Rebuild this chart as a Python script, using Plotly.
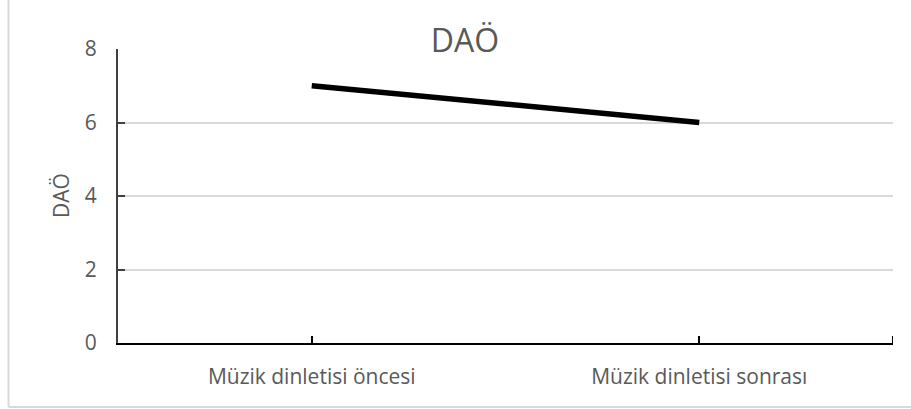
import plotly.graph_objects as go

categories = ["Müzik dinletisi öncesi", "Müzik dinletisi sonrası"]
values = [7, 6]
y_ticks = [0, 2, 4, 6, 8]
chart_title = "DAÖ"
y_title = "DAÖ"

W, H = 911, 409
L, R, T, B = 118, 18, 49, 66
pw, ph = W - L - R, H - T - B

FONT = "Open Sans"
GREY = "#595959"

fig = go.Figure()
fig.add_trace(go.Scatter(
    x=categories, y=values, mode="lines",
    line=dict(color="black", width=5.5),
    hoverinfo="skip", showlegend=False,
))

def px_x(p):
    return (p - L) / pw

def px_y(p):
    return (H - B - p) / ph

shapes = [
    # chart border (left, bottom)
    dict(type="line", xref="paper", yref="paper", x0=px_x(8.5), x1=px_x(8.5), y0=px_y(407), y1=px_y(0) + 0.2,
         line=dict(color="#d9d9d9", width=2)),
    dict(type="line", xref="paper", yref="paper", x0=px_x(8.5), x1=px_x(W) + 0.2, y0=px_y(407), y1=px_y(407),
         line=dict(color="#d9d9d9", width=2)),
    # end tick on category axis
    dict(type="line", xref="x", yref="paper", x0=len(categories) - 0.5, x1=len(categories) - 0.5,
         y0=0, y1=7 / ph, line=dict(color="black", width=2)),
]

fig.update_layout(
    width=W, height=H,
    margin=dict(l=L, r=R, t=T, b=B),
    paper_bgcolor="white", plot_bgcolor="white",
    font=dict(family=FONT, color=GREY),
    title=dict(text=chart_title, x=465 / W, xanchor="center", y=1 - 41 / H, yanchor="middle",
               xref="container", yref="container", font=dict(size=32, color=GREY, family=FONT)),
    shapes=shapes,
    annotations=[dict(text=y_title, xref="paper", yref="paper", x=px_x(61), y=px_y(196),
                      textangle=-90, showarrow=False, xanchor="center", yanchor="middle",
                      font=dict(size=21, color=GREY, family=FONT))],
)
fig.update_xaxes(
    type="category", range=[-0.5, len(categories) - 0.5],
    showgrid=False, showline=True, linecolor="black", linewidth=2,
    ticks="inside", ticklen=7, tickwidth=2, tickcolor="black",
    tickfont=dict(size=21, color=GREY, family=FONT), ticklabelstandoff=14,
    zeroline=False, fixedrange=True,
)
fig.update_yaxes(
    range=[0, 8], tickvals=y_ticks, ticktext=[str(v) for v in y_ticks],
    showgrid=True, gridcolor="#d9d9d9", gridwidth=1.5,
    showline=True, linecolor="#404040", linewidth=2,
    ticks="inside", ticklen=7, tickwidth=2, tickcolor="#404040",
    tickfont=dict(size=21, color=GREY, family=FONT), ticklabelstandoff=15,
    zeroline=False, fixedrange=True,
)

fig.write_html("out.html")
